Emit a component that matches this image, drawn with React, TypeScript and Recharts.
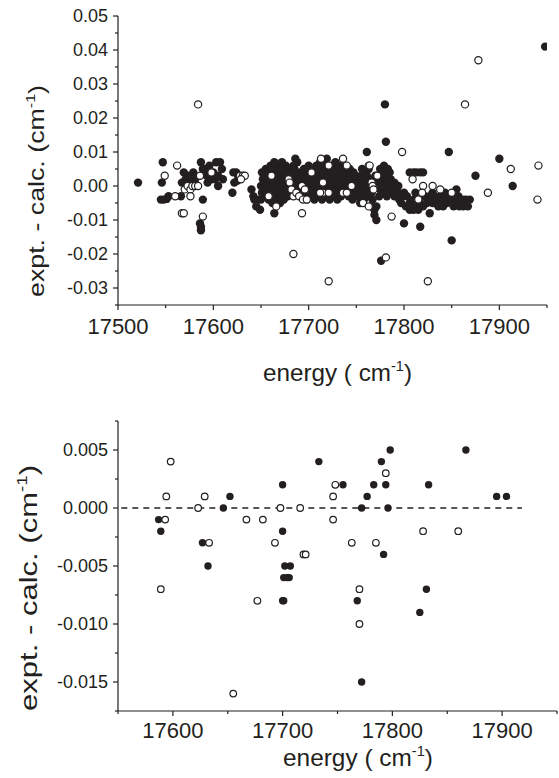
import { ScatterChart, Scatter, XAxis, YAxis, ReferenceLine } from 'recharts';

const INK = '#231f20';
const FONT = "'Liberation Sans', Arial, Helvetica, sans-serif";

// ---------- top panel: all assigned lines ----------
const topEnergyTicks = [17500, 17550, 17600, 17650, 17700, 17750, 17800, 17850, 17900, 17950];
const topEnergyLabels = [17500, 17600, 17700, 17800, 17900];
const topResidualTicks = [
  -0.035, -0.03, -0.025, -0.02, -0.015, -0.01, -0.005, 0, 0.005,
  0.01, 0.015, 0.02, 0.025, 0.03, 0.035, 0.04, 0.045, 0.05,
];
const topResidualLabels = [-0.03, -0.02, -0.01, 0, 0.01, 0.02, 0.03, 0.04, 0.05];

// [energy, expt - calc]
const topFilled: [number, number][] = [
  [17521, 0.001],
  [17547, 0.007], [17546, 0.001], [17545, -0.004], [17548, -0.004], [17551, -0.0038], [17553, -0.003],
  [17566, -0.003], [17567, 0.001], [17569, 0.004], [17571, 0.002], [17574, 0.003], [17572, 0.0005],
  [17579, 0.004], [17577, 0.001], [17581, 0.002],
  [17587, 0.007], [17589, -0.004], [17586, -0.011], [17587, -0.012], [17587, -0.013], [17589, 0.005],
  [17591, 0.005], [17593, 0.003], [17594, 0.001], [17596, 0.006], [17600, 0.004], [17602, 0.002],
  [17603, 0.007], [17605, 0.003], [17605, 0.0], [17607, 0.007], [17609, 0.005], [17610, 0.002], [17598, 0.002],
  [17620, -0.002], [17621, 0.004], [17624, 0.004], [17626, 0.003], [17622, 0.001], [17625, 0.0015],
  [17640, -0.001], [17642, -0.003], [17643, -0.004], [17645, -0.006], [17649, -0.007], [17647, -0.004],
  [17650, -0.004], [17651, -0.002], [17650, 0.0], [17652, 0.002], [17651, 0.004],
  [17654, -0.003], [17655, -0.001], [17654, 0.001], [17656, 0.003], [17655, 0.005],
  [17658, -0.004], [17659, -0.002], [17658, 0.0], [17657, 0.002], [17659, 0.0045], [17660, 0.006],
  [17664, -0.008],
  [17662, -0.005], [17663, -0.003], [17662, -0.001], [17661, 0.001], [17663, 0.003], [17662, 0.005], [17664, 0.007],
  [17666, -0.004], [17667, -0.002], [17666, 0.0], [17665, 0.002], [17667, 0.004], [17668, 0.006],
  [17670, -0.005], [17671, -0.003], [17670, -0.001], [17669, 0.001], [17671, 0.003], [17670, 0.005], [17672, 0.007],
  [17674, -0.004], [17675, -0.002], [17674, 0.0], [17673, 0.002], [17675, 0.004], [17676, 0.006],
  [17678, -0.003], [17679, -0.001], [17678, 0.0015], [17677, 0.003], [17679, 0.005],
  [17682, -0.002], [17683, 0.0], [17682, 0.002], [17681, 0.004], [17684, 0.006], [17686, 0.008],
  [17686, -0.001], [17687, 0.001], [17686, 0.003], [17685, 0.005], [17688, 0.007],
  [17690, -0.002], [17691, 0.0], [17690, 0.002], [17689, 0.004],
  [17694, -0.003], [17695, -0.001], [17694, 0.001], [17693, 0.003], [17695, 0.005],
  [17698, -0.004], [17699, -0.002], [17698, 0.0], [17697, 0.002], [17699, 0.004], [17700, 0.006],
  [17702, -0.003], [17703, -0.001], [17702, 0.001], [17701, 0.003], [17703, 0.005],
  [17706, -0.004], [17707, -0.002], [17706, 0.0], [17705, 0.002], [17707, 0.004], [17708, 0.006],
  [17710, -0.003], [17711, -0.001], [17710, 0.001], [17709, 0.003], [17711, 0.005], [17712, 0.007],
  [17714, -0.004], [17715, -0.002], [17714, 0.0], [17713, 0.002], [17715, 0.004], [17716, 0.006],
  [17718, -0.003], [17719, -0.001], [17718, 0.001], [17717, 0.003], [17719, 0.005], [17719, 0.008],
  [17722, -0.004], [17723, -0.002], [17722, 0.0], [17721, 0.002], [17723, 0.004], [17724, 0.006],
  [17726, -0.003], [17727, -0.001], [17726, 0.001], [17725, 0.003], [17727, 0.005], [17728, 0.007],
  [17730, -0.004], [17731, -0.002], [17730, 0.0], [17729, 0.002], [17731, 0.004], [17732, 0.006],
  [17734, -0.003], [17735, -0.001], [17734, 0.001], [17733, 0.003], [17735, 0.005],
  [17738, -0.002], [17739, 0.0], [17738, 0.002], [17737, 0.004], [17739, 0.006],
  [17742, -0.003], [17743, -0.001], [17742, 0.001], [17741, 0.003], [17743, 0.005],
  [17746, -0.004], [17747, -0.002], [17746, 0.0], [17745, 0.002], [17747, 0.004],
  [17750, -0.003], [17751, -0.001], [17750, 0.001], [17749, 0.003],
  [17754, -0.005], [17755, -0.003], [17754, -0.001], [17753, 0.001], [17755, 0.003], [17756, 0.005],
  [17758, -0.004], [17759, -0.002], [17758, 0.0], [17757, 0.002], [17759, 0.004],
  [17761, 0.01],
  [17762, -0.003], [17763, -0.001], [17762, 0.001], [17761, 0.003], [17763, 0.005],
  [17766, -0.006], [17767, -0.004], [17766, -0.002], [17765, 0.0], [17767, 0.002],
  [17769, -0.007], [17769, -0.0085], [17771, -0.01], [17771, -0.006], [17770, 0.001], [17770, 0.003],
  [17774, -0.003], [17775, -0.001], [17774, 0.001], [17773, 0.003], [17775, 0.005],
  [17776, -0.022],
  [17778, -0.002], [17779, 0.0], [17778, 0.002], [17777, 0.004], [17779, 0.006],
  [17780, 0.024], [17781, 0.013],
  [17782, -0.003], [17783, -0.001], [17782, 0.001], [17781, 0.003], [17783, 0.005],
  [17786, -0.002], [17787, 0.0], [17786, 0.002], [17785, 0.004],
  [17790, -0.003], [17791, -0.001], [17790, 0.001],
  [17794, -0.002], [17795, -0.004], [17794, 0.0], [17797, -0.005], [17798, -0.003],
  [17800, -0.011], [17800, -0.002], [17802, -0.006], [17803, -0.003],
  [17806, -0.005], [17806, -0.007], [17806, 0.004], [17808, -0.005],
  [17810, -0.006], [17810, -0.007], [17810, -0.004], [17810, 0.004], [17812, -0.002],
  [17813, -0.006], [17813, 0.004], [17815, -0.007],
  [17817, -0.012], [17817, -0.005], [17817, 0.004], [17820, 0.004],
  [17820, -0.006], [17822, -0.003], [17824, -0.005],
  [17827, -0.008], [17827, -0.003], [17830, -0.005], [17830, -0.002], [17832, -0.003],
  [17834, -0.004], [17834, -0.005], [17836, -0.006], [17838, -0.003],
  [17841, -0.004], [17841, -0.006], [17843, -0.002], [17845, -0.003], [17845, -0.005],
  [17847, 0.01], [17848, -0.003], [17850, -0.016],
  [17852, -0.004], [17852, -0.006], [17855, -0.001], [17855, -0.005], [17857, -0.003], [17858, -0.006],
  [17860, -0.005], [17862, -0.004], [17862, -0.006], [17865, -0.004], [17865, -0.005], [17867, -0.006], [17869, -0.004],
  [17875, 0.003], [17900, 0.008], [17914, 0.0], [17948, 0.041],
];

const topOpen: [number, number][] = [
  [17549, 0.003], [17562, 0.006], [17560, -0.003], [17567, -0.008], [17569, -0.008],
  [17570, -0.001], [17573, 0.0], [17576, -0.001], [17578, 0.0], [17581, 0.0], [17584, 0.0],
  [17576, -0.003], [17586, 0.003], [17584, 0.024], [17589, -0.009], [17598, 0.004],
  [17628, 0.003], [17631, 0.003], [17633, 0.003], [17629, 0.002],
  [17661, 0.003], [17658, -0.003], [17666, -0.006],
  [17679, 0.002], [17680, 0.001], [17682, -0.001], [17684, -0.003], [17687, -0.002],
  [17690, -0.003], [17693, 0.0], [17694, -0.004], [17693, -0.008], [17684, -0.02],
  [17703, 0.004], [17713, 0.008], [17715, 0.001], [17715, -0.002], [17721, -0.002], [17721, 0.006],
  [17736, 0.008], [17740, 0.006], [17736, -0.002], [17740, -0.002], [17745, 0.0],
  [17696, -0.001], [17698, -0.004], [17712, -0.002], [17721, -0.028],
  [17757, -0.005], [17763, -0.006], [17763, 0.006], [17764, 0.006], [17766, 0.001],
  [17767, 0.0], [17768, -0.001], [17772, 0.003], [17781, -0.021], [17787, -0.009],
  [17798, 0.01], [17809, 0.002], [17820, 0.0], [17819, -0.002], [17815, -0.004],
  [17825, -0.028], [17830, 0.0], [17838, -0.001], [17850, -0.002], [17864, 0.024],
  [17878, 0.037], [17888, -0.002], [17912, 0.005], [17941, 0.006], [17940, -0.004],
];

// ---------- bottom panel: subset ----------
const bottomEnergyTicks = [17550, 17600, 17650, 17700, 17750, 17800, 17850, 17900, 17950];
const bottomEnergyLabels = [17600, 17700, 17800, 17900];
const bottomResidualTicks = [-0.0175, -0.015, -0.0125, -0.01, -0.0075, -0.005, -0.0025, 0, 0.0025, 0.005, 0.0075];
const bottomResidualLabels = [-0.015, -0.01, -0.005, 0, 0.005];
const zeroLine = [{ x: 17553, y: 0 }, { x: 17918, y: 0 }];

const bottomFilled: [number, number][] = [
  [17587, -0.001], [17589, -0.002], [17627, -0.003], [17632, -0.005], [17646, 0.0], [17652, 0.001],
  [17700, 0.002], [17700, -0.002], [17700, -0.008], [17701, -0.008], [17702, -0.005], [17707, -0.005],
  [17701, -0.006], [17704, -0.006], [17706, -0.006], [17733, 0.004], [17755, 0.002], [17768, -0.008],
  [17772, -0.015], [17772, 0.0], [17777, 0.001], [17783, 0.002], [17790, 0.004], [17794, 0.002],
  [17792, -0.004], [17796, 0.0], [17798, 0.005], [17825, -0.009], [17831, -0.007], [17833, 0.002],
  [17867, 0.005], [17895, 0.001], [17904, 0.001],
];

const bottomOpen: [number, number][] = [
  [17589, -0.007], [17593, -0.001], [17594, 0.001], [17598, 0.004], [17623, 0.0], [17629, 0.001],
  [17633, -0.003], [17655, -0.016], [17667, -0.001], [17677, -0.008], [17682, -0.001], [17693, -0.003],
  [17698, 0.0], [17716, 0.0], [17719, -0.004], [17721, -0.004], [17746, 0.001], [17746, -0.001],
  [17748, 0.002], [17763, -0.003], [17770, -0.007], [17770, -0.01], [17785, -0.003], [17794, 0.003],
  [17828, -0.002], [17860, -0.002],
];

const toPoints = (rows: [number, number][]) => rows.map(([x, y]) => ({ x, y }));

type TickProps = { x?: number; y?: number; payload?: { value: number } };

function makeYTick(labels: number[], digits: number) {
  return function YTick({ x = 0, y = 0, payload }: TickProps) {
    const v = payload?.value ?? 0;
    const major = labels.includes(v);
    return (
      <g>
        <line x1={x - (major ? 5 : 3)} x2={x} y1={y} y2={y} stroke={INK} strokeWidth={1.2} />
        {major && (
          <text x={x - 10} y={y} dy={6.4} textAnchor="end" fontSize={18} fill={INK} fontFamily={FONT}>
            {v.toFixed(digits)}
          </text>
        )}
      </g>
    );
  };
}

function makeXTick(labels: number[], offset: number) {
  return function XTick({ x = 0, y = 0, payload }: TickProps) {
    const v = payload?.value ?? 0;
    const major = labels.includes(v);
    return (
      <g>
        <line x1={x} x2={x} y1={y} y2={y + (major ? 5 : 3)} stroke={INK} strokeWidth={1.2} />
        {major && (
          <text x={x} y={y + offset} textAnchor="middle" fontSize={22} fill={INK} fontFamily={FONT}>
            {v}
          </text>
        )}
      </g>
    );
  };
}

interface TitleProps {
  x: number;
  y: number;
  size: number;
  length: number;
  text: string;
  vertical?: boolean;
}

// axis title with a superscript "-1"
function Title({ x, y, size, length, text, vertical }: TitleProps) {
  return (
    <text
      x={x}
      y={y}
      transform={vertical ? `rotate(-90 ${x} ${y})` : undefined}
      textAnchor="middle"
      fontSize={size}
      fontFamily={FONT}
      fill={INK}
      textLength={length}
      lengthAdjust="spacingAndGlyphs"
    >
      {text}
      <tspan fontSize={size * 0.6} dy={-size * 0.42}>-1</tspan>
      <tspan dy={size * 0.42}>)</tspan>
    </text>
  );
}

const dot = (r: number) => (p: any) => <circle cx={p.cx} cy={p.cy} r={r} fill={INK} />;
const ring = (r: number) => (p: any) => (
  <circle cx={p.cx} cy={p.cy} r={r} fill="#ffffff" stroke={INK} strokeWidth={1.2} />
);

const AXIS_LINE = { stroke: INK, strokeWidth: 1.2 };

export default function App() {
  return (
    <div style={{ position: 'absolute', left: 0, top: 0, width: 559, height: 778, background: '#ffffff' }}>
      <div style={{ position: 'absolute', left: 0, top: 0 }}>
        <ScatterChart width={559} height={390} margin={{ top: 16, right: 12, bottom: 0, left: 0 }}>
          <XAxis
            type="number"
            dataKey="x"
            domain={[17500, 17950]}
            ticks={topEnergyTicks}
            interval={0}
            tickSize={0}
            tickMargin={0}
            tickLine={false}
            tick={makeXTick(topEnergyLabels, 28.5)}
            axisLine={AXIS_LINE}
            height={85}
            allowDataOverflow
            label={() => <Title x={337.5} y={381} size={24} length={149} text="energy ( cm" />}
          />
          <YAxis
            type="number"
            dataKey="y"
            domain={[-0.035, 0.05]}
            ticks={topResidualTicks}
            interval={0}
            tickSize={0}
            tickMargin={0}
            tickLine={false}
            tick={makeYTick(topResidualLabels, 2)}
            axisLine={AXIS_LINE}
            width={118}
            allowDataOverflow
            label={() => <Title x={44} y={191} size={22} length={212} text="expt. - calc. (cm" vertical />}
          />
          <Scatter data={toPoints(topFilled)} shape={dot(4.2)} isAnimationActive={false} />
          <Scatter data={toPoints(topOpen)} shape={ring(3.6)} isAnimationActive={false} />
        </ScatterChart>
      </div>
      <div style={{ position: 'absolute', left: 0, top: 400 }}>
        <ScatterChart width={559} height={378} margin={{ top: 21, right: 2, bottom: 0, left: 0 }}>
          <XAxis
            type="number"
            dataKey="x"
            domain={[17550, 17950]}
            ticks={bottomEnergyTicks}
            interval={0}
            tickSize={0}
            tickMargin={0}
            tickLine={false}
            tick={makeXTick(bottomEnergyLabels, 27)}
            axisLine={AXIS_LINE}
            height={67}
            allowDataOverflow
            label={() => <Title x={358} y={366} size={24} length={150} text="energy ( cm" />}
          />
          <YAxis
            type="number"
            dataKey="y"
            domain={[-0.0175, 0.0075]}
            ticks={bottomResidualTicks}
            interval={0}
            tickSize={0}
            tickMargin={0}
            tickLine={false}
            tick={makeYTick(bottomResidualLabels, 3)}
            axisLine={AXIS_LINE}
            width={118}
            allowDataOverflow
            label={() => <Title x={37} y={188} size={23} length={246} text="expt. - calc. (cm" vertical />}
          />
          <ReferenceLine segment={zeroLine} stroke={INK} strokeWidth={1.3} strokeDasharray="6 5" />
          <Scatter data={toPoints(bottomFilled)} shape={dot(3.7)} isAnimationActive={false} />
          <Scatter data={toPoints(bottomOpen)} shape={ring(3.3)} isAnimationActive={false} />
        </ScatterChart>
      </div>
    </div>
  );
}
